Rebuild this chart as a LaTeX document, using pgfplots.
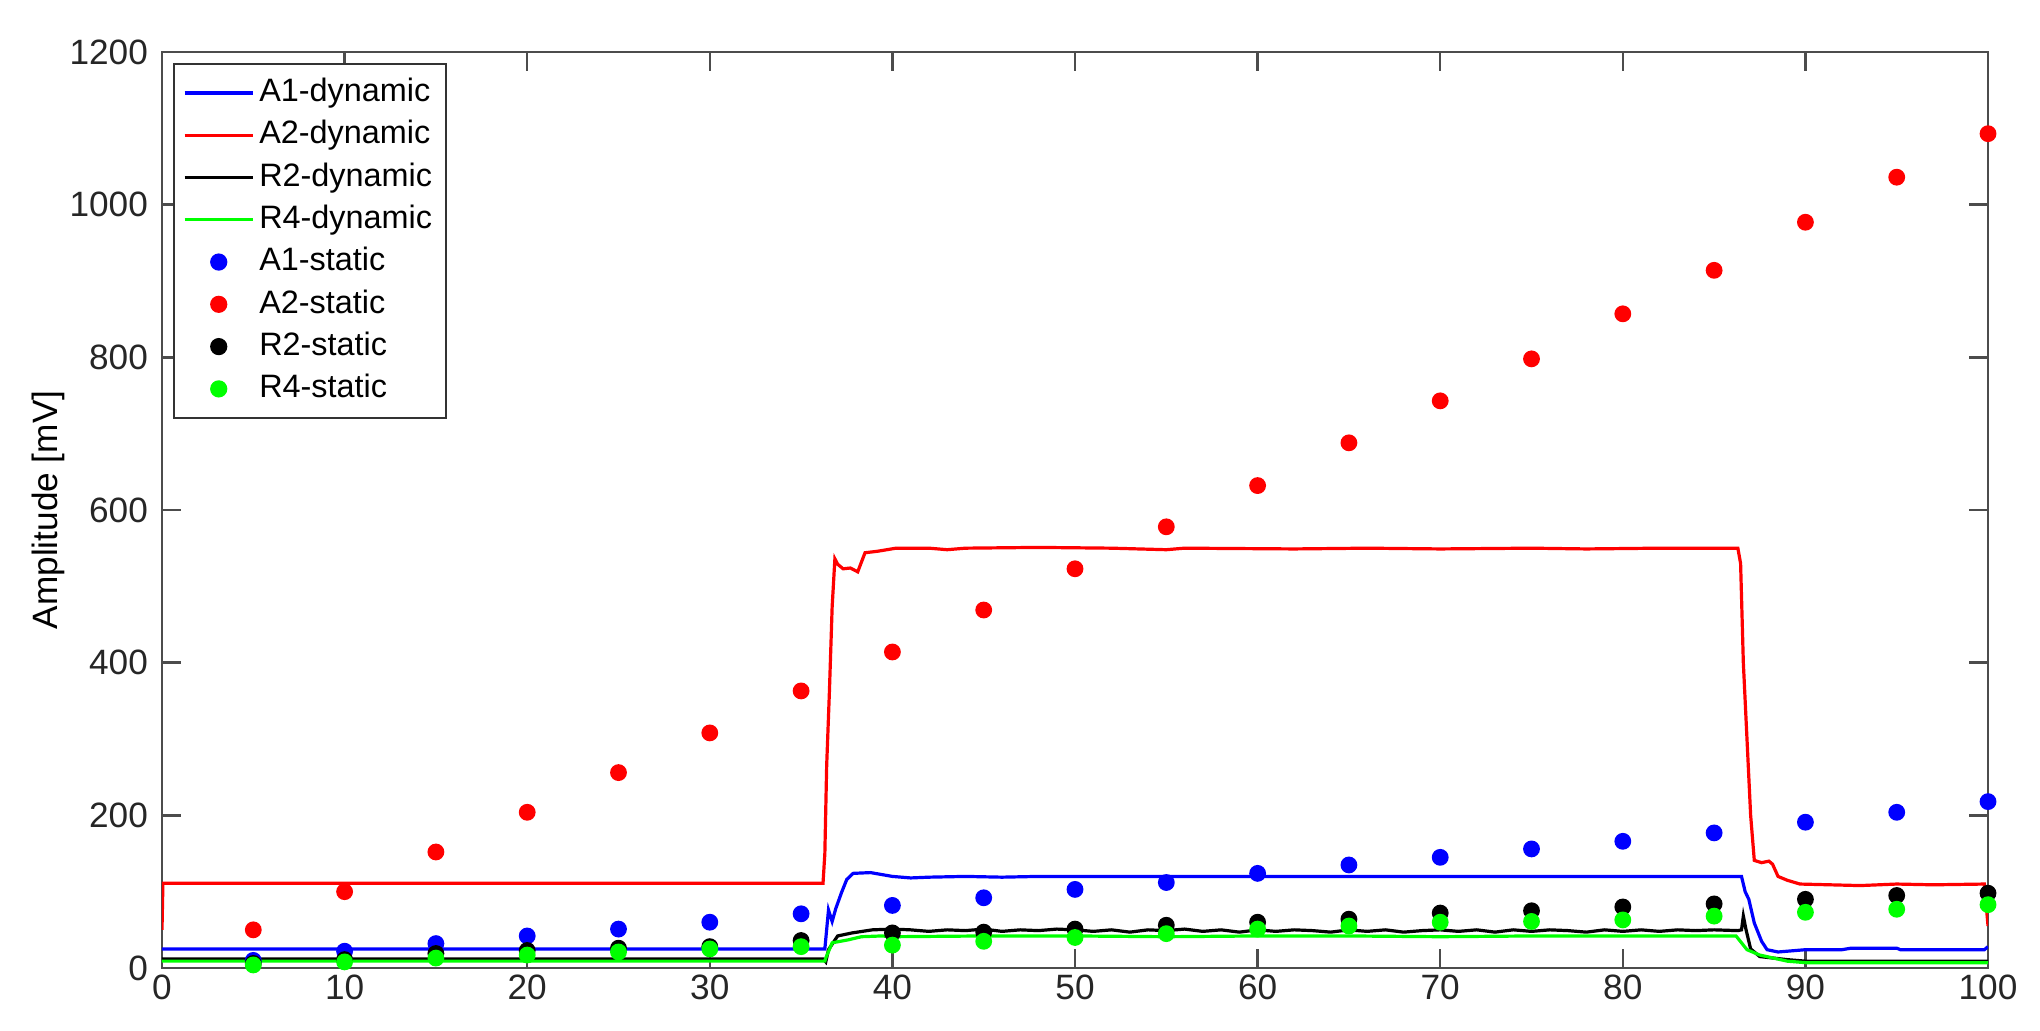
\documentclass[border=0pt]{standalone}
\usepackage{fontspec}
\setmainfont{Liberation Sans}
\usepackage{pgfplots}
\pgfplotsset{compat=1.18}
\usepackage{pgfplotstable}
\definecolor{mblue}{rgb}{0,0,1}
\definecolor{mred}{rgb}{1,0,0}
\definecolor{mgreen}{rgb}{0,1,0}
\definecolor{axgray}{rgb}{0.3,0.3,0.3}
\pgfplotstableread{
x A1 A2 R2 R4
5 10 50 6 4
10 22 100 11 8
15 32 152 19 13
20 42 204 23 17
25 51 256 26 21
30 60 308 28 25
35 71 363 36 28
40 82 414 46 30
45 92 469 47 35
50 103 523 51 40
55 112 578 56 45
60 124 632 60 51
65 135 688 64 55
70 145 743 72 60
75 156 798 75 61
80 166 857 80 63
85 177 914 84 68
90 191 977 90 73
95 204 1036 95 77
100 218 1093 98 83
}\staticdata
\begin{document}
\begin{tikzpicture}
\begin{axis}[
  name=ax,
  scale only axis,
  width=456.5pt, height=229pt,
  xmin=0, xmax=100, ymin=0, ymax=1200,
  xtick={0,10,...,100}, ytick={0,200,...,1200},
  tick align=inside,
  major tick length=4.7pt,
  axis line style={draw=axgray, line width=0.6pt},
  tick style={draw=axgray, line width=0.6pt},
  /pgf/number format/assume math mode=true,
  /pgf/number format/1000 sep={},
  ticklabel style={font=\fontsize{8.8}{10}\selectfont, text=black!85},
  xticklabel style={inner sep=1.5pt},
  ylabel={Amplitude [mV]},
  every axis y label/.style={at={(axis description cs:-0.0624,0.5)}, anchor=center, rotate=90, font=\fontsize{8.8}{10}\selectfont},
  legend cell align=left,
  legend style={at={(axis description cs:0,1)}, anchor=north west, xshift=2.8pt, yshift=-2.8pt,
    draw=black!80, line width=0.5pt, font=\fontsize{8.1}{9.5}\selectfont,
    row sep=-0.8pt, inner xsep=2.2pt, inner ysep=1.5pt,
    nodes={inner xsep=1.2pt}},
]
% dynamic
\addplot[mblue, line width=0.8pt] coordinates {
(0,25) (36.3,25) (36.5,76) (36.7,61) (36.9,78) (37.2,98) (37.5,116) (37.85,124) (38.8,125)
(40,120) (41,118) (42,119) (44,120) (46,119) (48,120) (52,120) (56,120) (60,120) (66,120) (72,120) (80,120) (86.5,120)
(86.7,100) (86.9,90) (87.2,59) (87.6,35) (87.9,24) (88.5,21) (90,24) (92,24) (92.5,26) (95,26) (95.2,24) (99.8,24) (100,28)};
\addlegendentry{A1-dynamic}
\addplot[mred, line width=0.8pt] coordinates {
(0,50) (0.05,111) (36.2,111) (36.3,150) (36.4,265) (36.55,362) (36.7,473) (36.85,536) (37.0,529) (37.3,523)
(37.7,524) (38.1,519) (38.5,544) (39.2,546) (40.2,550) (42,550) (43,548) (44,550) (48,551) (52,550) (55,548) (56,550)
(62,549) (66,550) (70,549) (75,550) (78,549) (82,550) (86.3,550) (86.45,530) (86.6,400) (86.8,300) (87.0,200)
(87.2,141) (87.6,138) (88.0,140) (88.2,136) (88.5,120) (89,115) (89.7,110) (93,108) (95,110) (97,109) (99.8,110) (100,55)};
\addlegendentry{A2-dynamic}
\addplot[black, line width=0.8pt] coordinates {
(0,12) (36.2,12) (36.35,8) (36.5,24) (37.0,42) (37.8,46) (38.9,50) (40,51) (41,50) (42,48) (43,50) (44,49) (45,51)
(46,48) (47,50) (48,49) (49,51) (50,50) (51,48) (52,50) (53,47) (54,50) (55,49) (56,51) (57,48) (58,50) (59,47)
(60,50) (61,48) (62,50) (63,49) (64,47) (65,50) (66,48) (67,50) (68,47) (69,49) (70,50) (71,48) (72,50) (73,47)
(74,50) (75,48) (76,50) (77,49) (78,47) (79,50) (80,48) (81,50) (82,48) (83,50) (84,49) (85,50) (86.3,49)
(86.5,50) (86.6,68) (86.75,50) (87.0,25) (87.5,15) (89,11) (90,9) (100,9)};
\addlegendentry{R2-dynamic}
\addplot[mgreen, line width=0.8pt] coordinates {
(0,9) (36.3,9) (36.35,13) (36.7,33) (37.6,37) (38.3,41) (39.4,42) (40,41) (45,42) (50,42) (55,41) (60,42)
(65,42) (70,41) (75,42) (80,42) (86.2,42) (86.8,24) (87.5,17) (89,9) (90,7) (100,7)};
\addlegendentry{R4-dynamic}
% static
\addplot[only marks, mark=*, mark size=1.9pt, mblue, mark options={draw=mblue, fill=mblue}] table[x=x, y=A1] {\staticdata};
\addlegendentry{A1-static}
\addplot[only marks, mark=*, mark size=1.9pt, mred, mark options={draw=mred, fill=mred}] table[x=x, y=A2] {\staticdata};
\addlegendentry{A2-static}
\addplot[only marks, mark=*, mark size=1.9pt, black, mark options={draw=black, fill=black}] table[x=x, y=R2] {\staticdata};
\addlegendentry{R2-static}
\addplot[only marks, mark=*, mark size=1.9pt, mgreen, mark options={draw=mgreen, fill=mgreen}] table[x=x, y=R4] {\staticdata};
\addlegendentry{R4-static}
\end{axis}
\pgfresetboundingbox
\path[use as bounding box] ([shift={(-40.5pt,-15.5pt)}]ax.south west) rectangle ([shift={(13pt,13pt)}]ax.north east);
\end{tikzpicture}
\end{document}
